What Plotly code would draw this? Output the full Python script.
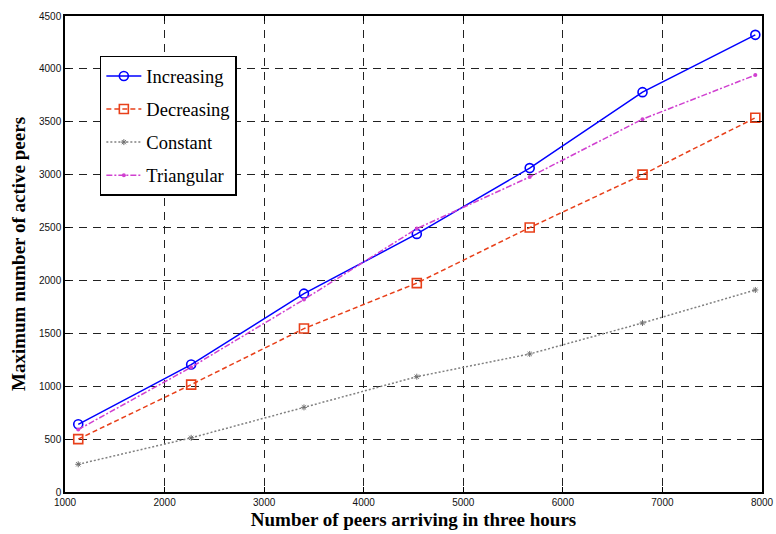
import plotly.graph_objects as go

x_vals = [1133, 2267, 3400, 4533, 5667, 6800, 7933]
increasing = [640, 1205, 1875, 2440, 3062, 3780, 4322]
decreasing = [500, 1015, 1545, 1975, 2500, 3000, 3538]
constant = [262, 512, 800, 1090, 1305, 1598, 1910]
triangular = [590, 1180, 1820, 2490, 2978, 3525, 3942]

x_ticks = [1000, 2000, 3000, 4000, 5000, 6000, 7000, 8000]
y_ticks = [0, 500, 1000, 1500, 2000, 2500, 3000, 3500, 4000, 4500]

fig = go.Figure()
fig.add_trace(go.Scatter(x=x_vals, y=increasing, name="Increasing", mode="lines+markers",
                         legendgroup="a",
                         line=dict(color="#0000ff", width=1.5),
                         marker=dict(symbol="circle-open", size=9, color="#0000ff", line=dict(width=1.6))))
fig.add_trace(go.Scatter(x=x_vals, y=decreasing, name="Decreasing", mode="lines+markers",
                         legendgroup="b",
                         line=dict(color="#e8401a", width=1.5, dash="5px,3px"),
                         marker=dict(symbol="square-open", size=9, color="#e8401a", line=dict(width=1.6))))
fig.add_trace(go.Scatter(x=x_vals, y=constant, name="Constant", mode="lines+markers",
                         legendgroup="c",
                         line=dict(color="#808080", width=1.5, dash="2px,2px"),
                         marker=dict(symbol="asterisk-open", size=5, color="#707070", line=dict(width=1))))
fig.add_trace(go.Scatter(x=x_vals, y=triangular, name="Triangular", mode="lines+markers",
                         legendgroup="d",
                         line=dict(color="#d040d0", width=1.5, dash="6px,2px,2px,2px"),
                         marker=dict(symbol="circle", size=4, color="#d040d0")))

axis_common = dict(
    showline=True, linecolor="black", linewidth=1.5, mirror="ticks",
    ticks="inside", ticklen=5, tickcolor="black",
    showgrid=True, gridcolor="#222222", gridwidth=1, griddash="8px,6px",
    zeroline=False, automargin=False,
    tickfont=dict(family="Liberation Sans, Arial", size=10, color="#111111"),
)

fig.update_xaxes(range=[1000, 8000], tickvals=x_ticks, ticktext=[str(v) for v in x_ticks],
                 title=dict(text="<b>Number of peers arriving in three hours</b>",
                            font=dict(family="Liberation Serif, Times New Roman", size=19, color="black"),
                            standoff=6),
                 **axis_common)
fig.update_yaxes(range=[0, 4500], tickvals=y_ticks, ticktext=[str(v) for v in y_ticks],
                 title=dict(text="<b>Maximum number of active peers</b>",
                            font=dict(family="Liberation Serif, Times New Roman", size=19, color="black"),
                            standoff=8),
                 **axis_common)

fig.update_layout(
    width=776, height=534,
    margin=dict(l=65, r=14, t=16, b=42),
    plot_bgcolor="white", paper_bgcolor="white",
    legend=dict(x=0.05, y=0.916, xanchor="left", yanchor="top",
                bgcolor="white", bordercolor="black", borderwidth=1.5,
                font=dict(family="Liberation Serif, Times New Roman", size=18.5, color="black"),
                itemwidth=35, tracegroupgap=6, traceorder="grouped"),
    showlegend=True,
)

# remove the default 8px page margin so the figure fills the 776x534 window exactly
fig.write_html("out.html",
               config={"displayModeBar": False},
               post_script="document.body.style.margin='0';document.body.style.overflow='hidden';")
